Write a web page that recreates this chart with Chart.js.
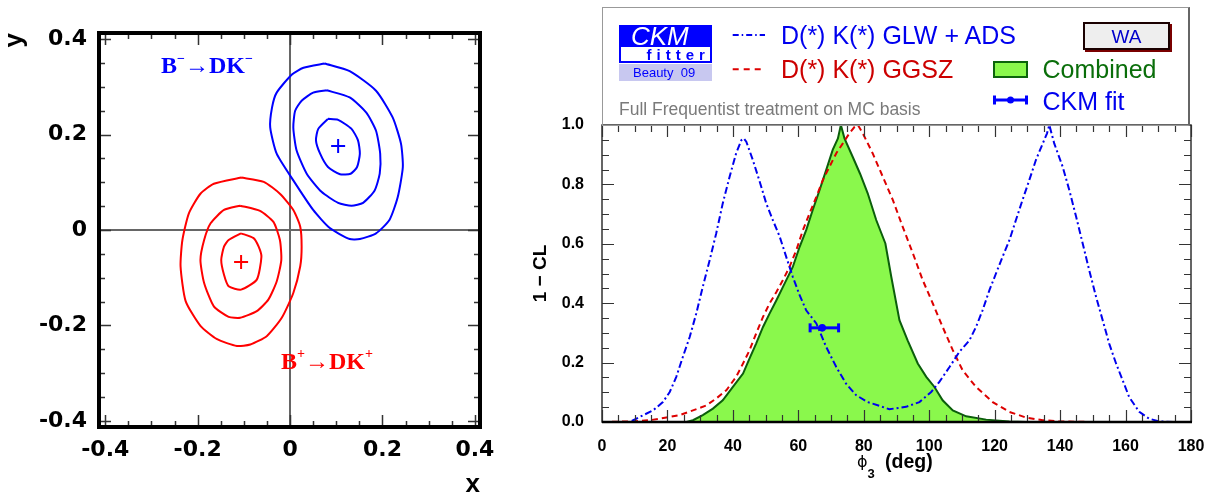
<!DOCTYPE html>
<html><head><meta charset="utf-8">
<script src="https://cdn.jsdelivr.net/npm/chart.js@4.4.1/dist/chart.umd.min.js"></script>
<style>
html,body{margin:0;padding:0;background:#fff;}
body{width:1212px;height:498px;position:relative;overflow:hidden;font-family:"Liberation Sans",Arial,sans-serif;}
canvas{position:absolute;top:0;}
#c1{left:0;}
#c2{left:520px;}
.t{position:absolute;line-height:1;white-space:pre;margin:0;}
.box{position:absolute;box-sizing:border-box;}
.serif{font-family:"Liberation Serif","Times New Roman",serif;font-weight:bold;font-size:24px;}
.sp{position:relative;font-size:14px;}
</style></head><body>
<canvas id="c1" width="520" height="498"></canvas>
<canvas id="c2" width="692" height="498"></canvas>

<!-- left panel annotations -->
<div class="t serif" style="left:161px;top:53px;color:#0000ff;">B<span class="sp" style="top:-10px;">−</span>→DK<span class="sp" style="top:-10px;">−</span></div>
<div class="t serif" style="left:281px;top:349px;color:#ff0000;">B<span class="sp" style="top:-11px;">+</span>→DK<span class="sp" style="top:-11px;">+</span></div>

<!-- right panel legend -->
<div class="box" style="left:602px;top:7px;width:588px;height:119px;border:1px solid #999;border-right:2px solid #666;"></div>
<div class="box" style="left:619px;top:25px;width:93px;height:38px;background:#0000ff;"></div>
<div class="box" style="left:621px;top:47px;width:89px;height:14px;background:#fff;"></div>
<div class="t" style="left:631px;top:22.6px;font-size:26px;font-style:italic;color:#fff;">CKM</div>
<div class="t" style="left:646.5px;top:47.3px;font-size:15px;font-weight:bold;letter-spacing:5px;color:#0000ff;">fitter</div>
<div class="box" style="left:619px;top:64px;width:93px;height:17px;background:#c8c8f0;"></div>
<div class="t" style="left:633px;top:66.3px;font-size:13px;color:#0000ff;">Beauty  09</div>

<svg class="box" style="left:725px;top:25px;" width="50" height="55">
  <line x1="7.7" y1="10" x2="40" y2="10" stroke="#0000ee" stroke-width="2" stroke-dasharray="6 3 1.5 3"/>
  <line x1="7.7" y1="44.3" x2="40" y2="44.3" stroke="#dd0000" stroke-width="2" stroke-dasharray="6 5"/>
</svg>
<div class="t" style="left:781px;top:23.4px;font-size:25px;color:#0000ee;">D(*) K(*) GLW + ADS</div>
<div class="t" style="left:781px;top:56.7px;font-size:25px;color:#cc0000;">D(*) K(*) GGSZ</div>

<div class="box" style="left:1083px;top:22px;width:87px;height:28px;background:#eeeeee;border:2px solid #1a0000;box-shadow:2px 2px 0 #7a0000;display:flex;align-items:center;justify-content:center;"><span style="font-size:19px;color:#0000cc;line-height:1;">WA</span></div>

<div class="box" style="left:993px;top:60.5px;width:34.5px;height:17px;background:#8af84c;border:2px solid #0b640b;"></div>
<div class="t" style="left:1042.5px;top:57px;font-size:25px;color:#0a6e0a;">Combined</div>
<svg class="box" style="left:990px;top:90px;" width="42" height="20">
  <line x1="4" y1="10" x2="37" y2="10" stroke="#0000ff" stroke-width="3"/>
  <line x1="4.5" y1="5.5" x2="4.5" y2="14.5" stroke="#0000ff" stroke-width="3"/>
  <line x1="36.5" y1="5.5" x2="36.5" y2="14.5" stroke="#0000ff" stroke-width="3"/>
  <circle cx="20.5" cy="10" r="3.5" fill="#0000ff"/>
</svg>
<div class="t" style="left:1042.5px;top:88.7px;font-size:25px;color:#0000ee;">CKM fit</div>
<div class="t" style="left:619px;top:101px;font-size:17.5px;color:#7a7a7a;">Full Frequentist treatment on MC basis</div>

<!-- right x-axis title -->
<div class="t" style="left:857px;top:453.5px;font-size:16px;font-family:'DejaVu Sans',sans-serif;">ϕ</div>
<div class="t" style="left:867.5px;top:467.3px;font-size:13px;font-weight:bold;">3</div>
<div class="t" style="left:885px;top:452px;font-size:19.5px;font-weight:bold;">(deg)</div>

<script>
// ---------------- left panel: (x, y) contours ----------------
const xyTicks = [-0.4, -0.2, 0, 0.2, 0.4];
const xyTickLabels = ['-0.4', '-0.2', '0', '0.2', '0.4'];

const blueOuterX = [0.075,0.129,0.186,0.222,0.240,0.244,0.233,0.215,0.186,0.151,0.129,0.086,0.050,0.007,-0.029,-0.043,-0.039,-0.029,0.004,0.029];
const blueOuterY = [0.349,0.333,0.292,0.236,0.181,0.132,0.069,0.021,-0.007,-0.019,-0.019,0.004,0.042,0.104,0.160,0.215,0.257,0.288,0.326,0.340];
const blueMidX = [0.079,0.129,0.165,0.186,0.195,0.194,0.183,0.158,0.133,0.104,0.068,0.036,0.014,0.007,0.011,0.025,0.050];
const blueMidY = [0.293,0.278,0.246,0.208,0.160,0.118,0.083,0.057,0.051,0.057,0.080,0.118,0.167,0.215,0.250,0.271,0.288];
const blueInX = [0.082,0.104,0.133,0.147,0.151,0.145,0.131,0.108,0.082,0.065,0.056,0.061];
const blueInY = [0.233,0.231,0.212,0.188,0.160,0.132,0.118,0.117,0.132,0.160,0.188,0.212];

const redOuterX = [-0.106,-0.057,-0.022,0.007,0.022,0.025,0.022,0.007,-0.018,-0.050,-0.086,-0.115,-0.158,-0.194,-0.226,-0.237,-0.233,-0.219,-0.194,-0.165];
const redOuterY = [0.110,0.101,0.076,0.042,0.007,-0.035,-0.076,-0.132,-0.184,-0.222,-0.240,-0.243,-0.229,-0.201,-0.149,-0.076,-0.021,0.035,0.076,0.097];
const redMidX = [-0.108,-0.065,-0.036,-0.022,-0.019,-0.029,-0.047,-0.072,-0.108,-0.133,-0.165,-0.186,-0.194,-0.186,-0.172,-0.143];
const redMidY = [0.051,0.040,0.017,-0.021,-0.063,-0.108,-0.146,-0.170,-0.184,-0.182,-0.160,-0.111,-0.063,-0.021,0.014,0.042];
const redInX = [-0.106,-0.079,-0.068,-0.062,-0.072,-0.106,-0.133,-0.143,-0.149,-0.143,-0.133];
const redInY = [-0.007,-0.017,-0.035,-0.056,-0.104,-0.125,-0.118,-0.094,-0.063,-0.035,-0.021];

const blueCentre = [0.104, 0.176];
const redCentre = [-0.106, -0.067];

// ---------------- right panel: 1-CL vs phi3 ----------------
const phiTicks = [0, 20, 40, 60, 80, 100, 120, 140, 160, 180];
const clTicks = [0, 0.2, 0.4, 0.6, 0.8, 1.0];
const clTickLabels = ['0.0', '0.2', '0.4', '0.6', '0.8', '1.0'];

const glwPhi = [0,8.5,11.5,15.6,18.6,20.7,22.7,24.7,26.8,28.8,30.8,32.9,34.9,36.9,39.0,41.0,42.6,43.3,44.1,46.1,48.2,50.2,52.2,54.3,56.3,58.3,60.4,62.4,65.5,68.5,71.6,74.6,77.7,81.2,82.7,87.8,92.9,97.0,100.6,103.1,106.2,109.2,112.3,114.3,116.3,118.4,120.4,122.4,124.5,126.5,128.5,130.6,132.6,134.7,136.0,136.7,138.2,140.8,142.8,144.9,146.9,148.9,151.0,153.0,155.0,157.1,159.1,161.1,164.2,167.2,170.3,175.4,180];
const glwCL = [0,0,0.017,0.039,0.067,0.101,0.152,0.219,0.286,0.365,0.455,0.545,0.635,0.736,0.826,0.905,0.949,0.955,0.944,0.882,0.809,0.736,0.680,0.624,0.556,0.489,0.427,0.376,0.332,0.253,0.185,0.129,0.090,0.067,0.062,0.043,0.051,0.067,0.101,0.135,0.185,0.236,0.275,0.320,0.376,0.444,0.500,0.556,0.612,0.680,0.747,0.815,0.882,0.938,0.972,1.0,0.938,0.859,0.781,0.691,0.601,0.511,0.421,0.343,0.264,0.197,0.141,0.084,0.034,0.011,0.002,0,0];

const ggszPhi = [0,9.5,14.6,19.7,23.7,27.8,31.9,34.9,38.0,41.0,43.1,45.1,47.1,49.2,51.2,53.3,55.3,57.3,59.4,61.4,63.4,65.5,67.5,69.5,71.6,73.6,75.6,77.2,78.2,79.7,82.7,85.8,88.9,91.9,95.0,98.0,101.1,104.1,107.2,110.2,114.3,119.4,124.5,129.6,134.7,139.8,150,180];
const ggszCL = [0,0.002,0.006,0.015,0.023,0.039,0.056,0.079,0.107,0.152,0.197,0.242,0.298,0.354,0.399,0.438,0.478,0.522,0.579,0.646,0.702,0.758,0.815,0.859,0.905,0.938,0.972,0.994,1.0,0.972,0.905,0.826,0.747,0.657,0.568,0.478,0.399,0.320,0.242,0.174,0.118,0.067,0.034,0.015,0.006,0.002,0,0];

const combPhi = [0,25.8,27.8,30.8,33.9,36.9,40.0,43.1,45.1,47.1,49.2,51.2,53.3,55.3,58.3,60.4,62.4,64.4,66.5,68.5,70.5,72.1,73.0,74.1,76.6,78.9,81.2,83.8,86.6,88.4,90.9,93.4,96.5,99.1,101.6,104.1,107.2,111.3,117.4,124.5,129.6,180];
const combCL = [0,0,0.006,0.023,0.045,0.073,0.118,0.163,0.214,0.264,0.320,0.365,0.410,0.455,0.522,0.590,0.646,0.714,0.781,0.848,0.916,0.955,1.0,0.955,0.893,0.835,0.770,0.680,0.601,0.489,0.343,0.275,0.197,0.152,0.118,0.073,0.039,0.019,0.008,0.002,0,0];

const ckmPhi = 67.3, ckmLo = 63.6, ckmHi = 72.3, ckmCL = 0.317;

// ---------------- helpers ----------------
const pts = (xs, ys) => xs.map((x, i) => ({x, y: ys[i]}));
const closed = (xs, ys) => { const p = pts(xs, ys); p.push({...p[0]}); return p; };

const rootFrame = {
  id: 'rootFrame',
  afterDatasetsDraw(chart, args, o) {
    const {ctx, chartArea: a, scales: {x, y}} = chart;
    const vals = (s, step) => { const v = []; for (let k = Math.ceil(s.min / step - 1e-9); k * step <= s.max + 1e-9; k++) v.push(k * step); return v; };
    const major = (v, step) => Math.abs(v / step - Math.round(v / step)) < 1e-6;
    ctx.save();
    ctx.strokeStyle = o.tickColor; ctx.lineWidth = o.tickWidth; ctx.lineCap = 'butt';
    ctx.beginPath();
    for (const v of vals(x, o.xMinor)) {
      const p = Math.round(x.getPixelForValue(v)) + 0.5;
      const L = major(v, o.xMajor) ? o.majorLen : o.minorLen;
      ctx.moveTo(p, a.bottom); ctx.lineTo(p, a.bottom - L);
      ctx.moveTo(p, a.top); ctx.lineTo(p, a.top + L);
    }
    for (const v of vals(y, o.yMinor)) {
      const p = Math.round(y.getPixelForValue(v)) + 0.5;
      const L = major(v, o.yMajor) ? o.majorLen : o.minorLen;
      ctx.moveTo(a.left, p); ctx.lineTo(a.left + L, p);
      ctx.moveTo(a.right, p); ctx.lineTo(a.right - L, p);
    }
    ctx.stroke();
    ctx.strokeStyle = o.frameColor; ctx.lineWidth = o.frameWidth;
    ctx.strokeRect(a.left, a.top, a.right - a.left, a.bottom - a.top);
    if (o.bottomWidth) {
      ctx.strokeStyle = '#000'; ctx.lineWidth = o.bottomWidth;
      ctx.beginPath(); ctx.moveTo(a.left, a.bottom); ctx.lineTo(a.right + 1, a.bottom); ctx.stroke();
    }
    ctx.restore();
  }
};

const common = {
  responsive: false, maintainAspectRatio: false, devicePixelRatio: 1, animation: false, events: [],
};

// ---------------- left chart ----------------
const contour = (data, color) => ({
  type: 'scatter', data, showLine: true, borderColor: color, borderWidth: 2,
  pointRadius: 0, tension: 0.2, fill: false, borderJoinStyle: 'round'
});
const leftTickFont = {family: "'DejaVu Sans', sans-serif", size: 22, weight: 'bold'};

new Chart(document.getElementById('c1'), {
  type: 'scatter',
  data: {
    datasets: [
      {data: [{x: blueCentre[0], y: blueCentre[1]}], pointStyle: 'cross', pointRadius: 7, borderColor: '#0000ff', borderWidth: 2},
      {data: [{x: redCentre[0], y: redCentre[1]}], pointStyle: 'cross', pointRadius: 7, borderColor: '#ff0000', borderWidth: 2},
      contour(closed(blueOuterX, blueOuterY), '#0000ff'),
      contour(closed(blueMidX, blueMidY), '#0000ff'),
      contour(closed(blueInX, blueInY), '#0000ff'),
      contour(closed(redOuterX, redOuterY), '#ff0000'),
      contour(closed(redMidX, redMidY), '#ff0000'),
      contour(closed(redInX, redInY), '#ff0000'),
    ]
  },
  options: {
    ...common,
    layout: {padding: {left: 0, top: 33, right: 40, bottom: 0}},
    plugins: {
      legend: {display: false}, tooltip: {enabled: false},
      rootFrame: {tickColor: '#333', tickWidth: 1.5, majorLen: 12, minorLen: 6, xMajor: 0.2, xMinor: 0.05, yMajor: 0.2, yMinor: 0.05, frameColor: '#000', frameWidth: 4}
    },
    scales: {
      x: {
        type: 'linear', min: -0.4135, max: 0.411,
        afterBuildTicks: s => { s.ticks = xyTicks.map(v => ({value: v})); },
        afterFit: s => { s.height = 71; },
        ticks: {callback: v => xyTickLabels[xyTicks.indexOf(v)], font: leftTickFont, color: '#000', padding: 10, autoSkip: false, maxRotation: 0},
        grid: {drawTicks: false, lineWidth: 2, color: c => (c.tick && c.tick.value === 0) ? '#666' : 'rgba(0,0,0,0)'},
        border: {display: false},
        title: {display: true, text: 'x', align: 'end', color: '#000', padding: 0, font: {family: "'Liberation Sans', sans-serif", size: 26, weight: 'bold', lineHeight: 1}}
      },
      y: {
        type: 'linear', min: -0.413, max: 0.413,
        afterBuildTicks: s => { s.ticks = xyTicks.map(v => ({value: v})); },
        afterFit: s => { s.width = 99; },
        ticks: {callback: v => xyTickLabels[xyTicks.indexOf(v)], font: leftTickFont, color: '#000', padding: 12, autoSkip: false},
        grid: {drawTicks: false, lineWidth: 2, color: c => (c.tick && c.tick.value === 0) ? '#666' : 'rgba(0,0,0,0)'},
        border: {display: false},
        title: {display: true, text: 'y', align: 'end', color: '#000', padding: {top: 2, bottom: 0}, font: {family: "'Liberation Sans', sans-serif", size: 26, weight: 'bold', lineHeight: 1}}
      }
    }
  },
  plugins: [rootFrame]
});

// ---------------- right chart ----------------
const rightTickFont = {family: "'Liberation Sans', sans-serif", size: 16, weight: 'bold'};
new Chart(document.getElementById('c2'), {
  type: 'line',
  data: {
    datasets: [
      {data: [{x: ckmPhi, y: ckmCL}], showLine: false, pointStyle: 'circle', pointRadius: 3.8, backgroundColor: '#0000ff', borderColor: '#0000ff', borderWidth: 0},
      {data: [{x: ckmLo, y: ckmCL}, {x: ckmHi, y: ckmCL}], borderColor: '#0000ff', borderWidth: 3, pointStyle: 'line', pointRotation: 90, pointRadius: 4.5, pointBorderWidth: 3, pointBorderColor: '#0000ff', fill: false},
      {data: pts(glwPhi, glwCL), borderColor: '#0000ee', borderWidth: 2, borderDash: [7, 3, 2, 3], pointRadius: 0, tension: 0, fill: false},
      {data: pts(ggszPhi, ggszCL), borderColor: '#dd0000', borderWidth: 2, borderDash: [6, 4], pointRadius: 0, tension: 0, fill: false},
      {data: pts(combPhi, combCL), borderColor: '#0b5e0b', borderWidth: 2, backgroundColor: '#8af84c', pointRadius: 0, tension: 0, fill: 'origin'},
    ]
  },
  options: {
    ...common,
    layout: {padding: {left: 0, top: 125, right: 21, bottom: 0}},
    plugins: {
      legend: {display: false}, tooltip: {enabled: false},
      rootFrame: {tickColor: '#333', tickWidth: 1.2, majorLen: 12, minorLen: 7, xMajor: 20, xMinor: 5, yMajor: 0.2, yMinor: 0.05, frameColor: '#333', frameWidth: 1.5, bottomWidth: 2.5}
    },
    scales: {
      x: {
        type: 'linear', min: 0, max: 180,
        afterBuildTicks: s => { s.ticks = phiTicks.map(v => ({value: v})); },
        afterFit: s => { s.height = 76; },
        ticks: {callback: v => String(v), font: rightTickFont, color: '#000', padding: 7, autoSkip: false, maxRotation: 0},
        grid: {display: false}, border: {display: false}
      },
      y: {
        type: 'linear', min: 0, max: 1,
        afterBuildTicks: s => { s.ticks = clTicks.map(v => ({value: v})); },
        afterFit: s => { s.width = 82; },
        ticks: {callback: v => clTickLabels[clTicks.indexOf(v)], font: rightTickFont, color: '#000', padding: 10, autoSkip: false},
        grid: {display: false}, border: {display: false},
        title: {display: true, text: '1 − CL', color: '#000', padding: {top: 9, bottom: 0}, font: {family: "'Liberation Sans', sans-serif", size: 19, weight: 'bold'}}
      }
    }
  },
  plugins: [rootFrame]
});
</script>
</body></html>
